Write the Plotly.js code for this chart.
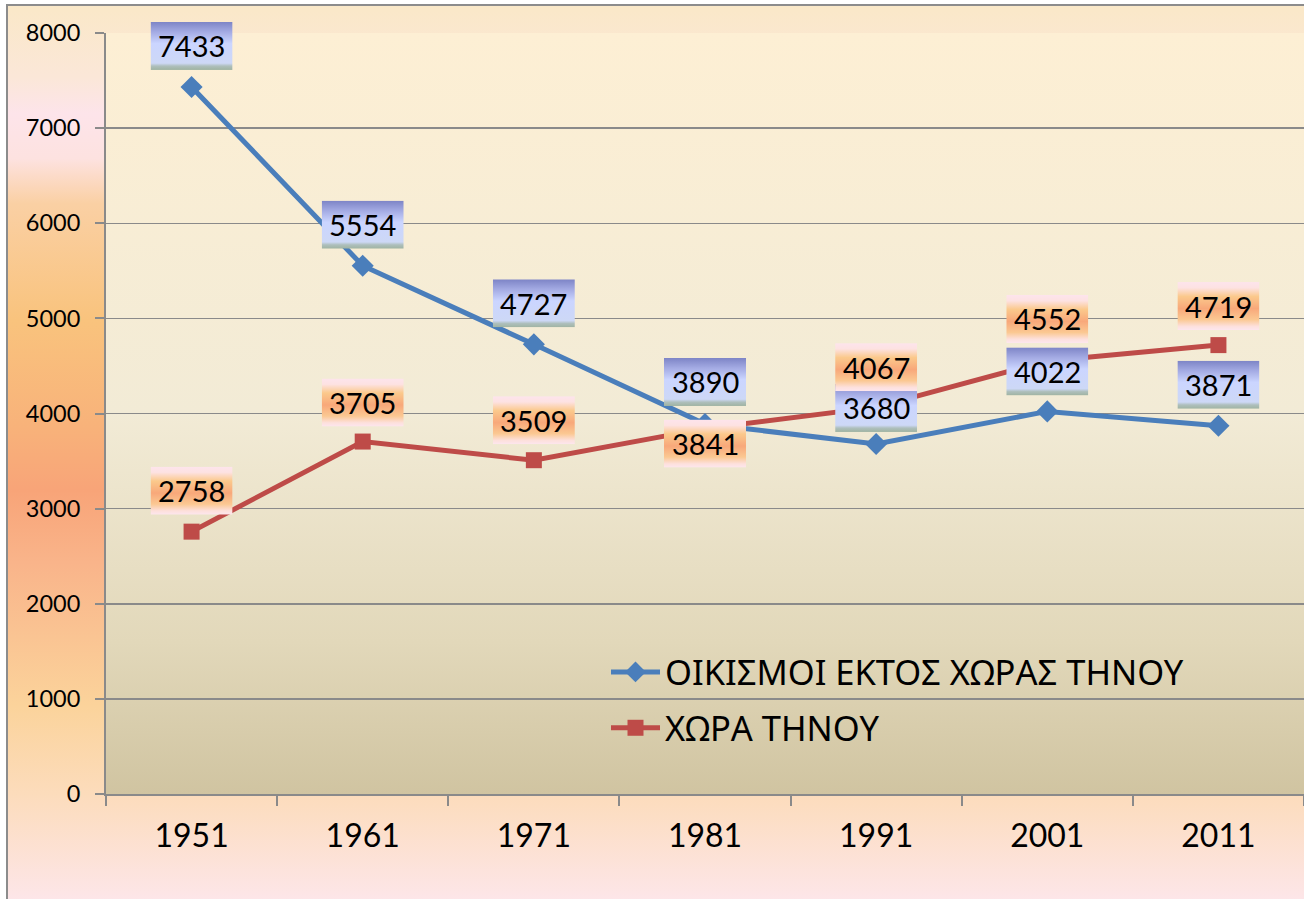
<!DOCTYPE html>
<html>
<head>
<meta charset="utf-8">
<script src="https://cdn.plot.ly/plotly-3.0.1.min.js"></script>
<style>
  html, body { margin: 0; padding: 0; background: #ffffff; width: 1304px; height: 899px; overflow: hidden; }
  #bg {
    position: absolute; left: 6px; top: 4px; width: 1300px; height: 897px;
    border-left: 2px solid #8c8c8c; border-top: 2px solid #8c8c8c;
    background: linear-gradient(to bottom,
      #fae8c8 0%, #fbe7d8 8%, #fde4ea 12%, #fde2e0 17%, #fad0a4 22%,
      #f9c37d 35%, #f8b27a 47%, #f8a478 54%, #f9b48a 62%, #fbd39b 78%,
      #fcdcbc 88%, #fde6ea 100%);
  }
  #chart { position: absolute; left: 0; top: 0; width: 1304px; height: 899px; }
</style>
</head>
<body>
<div id="bg"></div>
<div id="chart"></div>
<script>
// ---- data ----
var years = ["1951", "1961", "1971", "1981", "1991", "2001", "2011"];
var outsideChora = [7433, 5554, 4727, 3890, 3680, 4022, 3871];
var chora = [2758, 3705, 3509, 3841, 4067, 4552, 4719];
var seriesNames = ["ΟΙΚΙΣΜΟΙ ΕΚΤΟΣ ΧΩΡΑΣ ΤΗΝΟΥ", "ΧΩΡΑ ΤΗΝΟΥ"];

// ---- label placement (pixels above the point) ----
var blueLabelShift = [41, 41, 41, 42, 36, 40, 41];
var redLabelShift = [41, 39, 40, -15, 40, 42, 39];

// ---- layout constants ----
var W = 1304, H = 899;
var M = { l: 106, r: 0, t: 33, b: 105 };
var yMax = 8000;
var plotW = W - M.l - M.r, plotH = H - M.t - M.b;
var boxW = 82, boxH = 48;

function svgUri(svg) { return 'data:image/svg+xml;charset=utf-8,' + encodeURIComponent(svg); }

var blueBox = svgUri('<svg xmlns="http://www.w3.org/2000/svg" width="82" height="48" preserveAspectRatio="none" viewBox="0 0 82 48">' +
  '<defs><linearGradient id="g" x1="0" y1="0" x2="0" y2="1">' +
  '<stop offset="0" stop-color="#7d84c6"/><stop offset="0.2" stop-color="#a2a9e2"/>' +
  '<stop offset="0.45" stop-color="#cbd5ff"/><stop offset="0.86" stop-color="#cdd8f6"/>' +
  '<stop offset="0.92" stop-color="#aebfbc"/><stop offset="1" stop-color="#9fb3a2"/>' +
  '</linearGradient></defs><rect width="82" height="48" fill="url(#g)"/></svg>');

var orangeBox = svgUri('<svg xmlns="http://www.w3.org/2000/svg" width="82" height="48" preserveAspectRatio="none" viewBox="0 0 82 48">' +
  '<defs><linearGradient id="g" x1="0" y1="0" x2="0" y2="1">' +
  '<stop offset="0" stop-color="#fde4ec"/><stop offset="0.12" stop-color="#fde2e2"/>' +
  '<stop offset="0.3" stop-color="#fbc98c"/><stop offset="0.55" stop-color="#f8a87a"/>' +
  '<stop offset="0.78" stop-color="#fbc892"/><stop offset="0.92" stop-color="#fde0dc"/>' +
  '<stop offset="1" stop-color="#fde6ee"/>' +
  '</linearGradient></defs><rect width="82" height="48" fill="url(#g)"/></svg>');

var plotBg = svgUri('<svg xmlns="http://www.w3.org/2000/svg" width="100" height="100" preserveAspectRatio="none" viewBox="0 0 100 100">' +
  '<defs><linearGradient id="g" x1="0" y1="0" x2="0" y2="1">' +
  '<stop offset="0" stop-color="#fdefd4"/><stop offset="0.5" stop-color="#f2ebd6"/>' +
  '<stop offset="0.8" stop-color="#e2d8ba"/><stop offset="1" stop-color="#d0c4a1"/>' +
  '</linearGradient></defs><rect width="100" height="100" fill="url(#g)"/></svg>');

var labelFont = { family: 'Lato, "Noto Sans", sans-serif', size: 29, color: '#000000' };

var images = [{
  source: plotBg, xref: 'paper', yref: 'paper', x: 0, y: 1, sizex: 1, sizey: 1,
  xanchor: 'left', yanchor: 'top', sizing: 'stretch', layer: 'below'
}];
var annotations = [];

function addLabels(values, shifts, src) {
  values.forEach(function (v, i) {
    // box placed in paper coordinates (derived from the data value) so it is not clipped
    images.push({
      source: src, xref: 'paper', yref: 'paper',
      x: (i + 0.5) / years.length, y: v / yMax + shifts[i] / plotH,
      sizex: boxW / plotW, sizey: boxH / plotH,
      xanchor: 'center', yanchor: 'middle', sizing: 'stretch', layer: 'above'
    });
    annotations.push({
      xref: 'x', yref: 'y', x: i, y: v, yshift: shifts[i], showarrow: false,
      text: String(v), font: labelFont, xanchor: 'center', yanchor: 'middle'
    });
  });
}
addLabels(outsideChora, blueLabelShift, blueBox);
addLabels(chora, redLabelShift, orangeBox);

var traces = [
  {
    type: 'scatter', mode: 'lines+markers', name: seriesNames[0], legendgroup: 'a',
    x: years.map(function (_, i) { return i; }), y: outsideChora,
    line: { color: '#4a7ebb', width: 5 },
    marker: { symbol: 'diamond', size: 17, color: '#4a7ebb' }
  },
  {
    type: 'scatter', mode: 'lines+markers', name: seriesNames[1], legendgroup: 'b',
    x: years.map(function (_, i) { return i; }), y: chora,
    line: { color: '#be4b48', width: 5 },
    marker: { symbol: 'square', size: 16, color: '#be4b48' }
  }
];

var axisColor = '#8a8a8a';
var layout = {
  width: W, height: H,
  margin: M,
  paper_bgcolor: 'rgba(0,0,0,0)',
  plot_bgcolor: 'rgba(0,0,0,0)',
  showlegend: true,
  legend: {
    x: (606 - M.l) / plotW, y: 1 - (643 - M.t) / plotH, xanchor: 'left', yanchor: 'top',
    bgcolor: 'rgba(0,0,0,0)', borderwidth: 0,
    font: { family: '"Noto Sans", sans-serif', size: 34.5, color: '#000000' },
    traceorder: 'grouped', tracegroupgap: 8, itemwidth: 49
  },
  xaxis: {
    type: 'linear', range: [-0.5, years.length - 0.5],
    tickmode: 'array', tickvals: years.map(function (_, i) { return i; }), ticktext: years,
    showgrid: false, zeroline: false,
    showline: true, linecolor: axisColor, linewidth: 2,
    ticks: '',
    tickfont: { family: 'Lato, "Noto Sans", sans-serif', size: 32, color: '#000000' },
    ticklabelstandoff: 13
  },
  xaxis2: {
    overlaying: 'x', matches: 'x', range: [-0.5, years.length - 0.5],
    tickmode: 'array', tickvals: years.map(function (_, i) { return i - 0.5; }).concat([years.length - 0.5]),
    showticklabels: false, ticks: 'outside', ticklen: 11, tickwidth: 2, tickcolor: axisColor,
    showgrid: false, zeroline: false, side: 'bottom'
  },
  yaxis: {
    range: [0, yMax], dtick: 1000, tick0: 0,
    showgrid: true, gridcolor: axisColor, gridwidth: 1.5,
    zeroline: false, showline: true, linecolor: axisColor, linewidth: 2,
    ticks: 'outside', ticklen: 9, tickwidth: 2, tickcolor: axisColor,
    tickfont: { family: 'Lato, "Noto Sans", sans-serif', size: 23.5, color: '#000000' },
    ticklabelstandoff: 10
  },
  images: images,
  annotations: annotations
};

// helper trace so that the boundary tick axis is drawn
traces.push({ type: 'scatter', x: [0], y: [0], xaxis: 'x2', yaxis: 'y', mode: 'markers',
  marker: { opacity: 0 }, showlegend: false, hoverinfo: 'skip' });

Plotly.newPlot('chart', traces, layout, { displayModeBar: false, staticPlot: true });
</script>
</body>
</html>
